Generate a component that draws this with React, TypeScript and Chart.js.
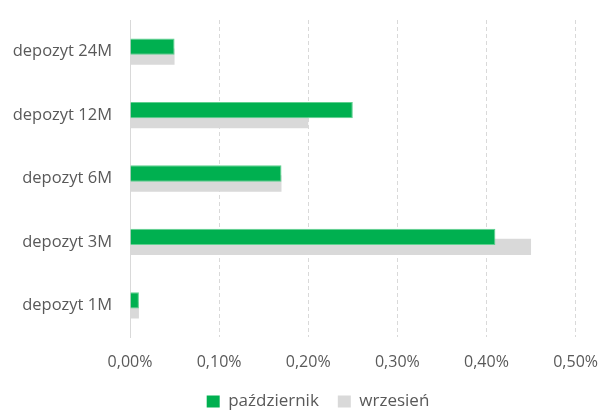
import React, { useEffect, useRef } from "react";
import { Chart, registerables } from "chart.js";

Chart.register(...registerables);

const categories = ["depozyt 24M", "depozyt 12M", "depozyt 6M", "depozyt 3M", "depozyt 1M"];
const october = [0.05, 0.25, 0.17, 0.41, 0.01];
const september = [0.05, 0.2, 0.17, 0.45, 0.01];
const seriesNames = ["październik", "wrzesień"];

const FONT = "'Open Sans', Lato, sans-serif";
const TEXT = "#595959";

const legendTweak = {
  id: "legendTweak",
  beforeUpdate(chart: any) {
    const lg = chart.legend;
    if (lg && !lg._patchedFit) {
      const orig = lg.fit.bind(lg);
      lg.fit = function () {
        orig();
        this.height = 39;
      };
      lg._patchedFit = true;
    }
  },
  afterLayout(chart: any) {
    const lg = chart.legend;
    if (lg) {
      lg.left += 30;
      lg.right += 30;
      lg.top += 3;
      lg.bottom += 3;
    }
  },
};

export default function App() {
  const ref = useRef<HTMLCanvasElement | null>(null);
  useEffect(() => {
    document.body.style.margin = "0";
    const chart = new Chart(ref.current!, {
      type: "bar",
      data: {
        labels: categories,
        datasets: [
          {
            label: seriesNames[0],
            data: october,
            backgroundColor: "#00B050",
            borderColor: "#5fd08f",
            borderWidth: 1,
            categoryPercentage: 0.315,
            barPercentage: 1.63,
          },
          {
            label: seriesNames[1],
            data: september,
            backgroundColor: "#D9D9D9",
            borderWidth: 0,
            categoryPercentage: 0.315,
            barPercentage: 1.63,
          },
        ],
      },
      plugins: [legendTweak],
      options: {
        indexAxis: "y",
        animation: false,
        responsive: false,
        layout: { padding: { left: 0, right: 39, top: 20, bottom: 0 } },
        scales: {
          x: {
            min: 0,
            max: 0.5,
            ticks: {
              stepSize: 0.1,
              color: TEXT,
              font: { family: FONT, size: 16, lineHeight: 1 },
              padding: 17,
              callback: (v: any) => Number(v).toFixed(2).replace(".", ",") + "%",
            },
            grid: { color: "#D9D9D9", drawTicks: false, lineWidth: 1 },
            border: { display: false, dash: [4, 3] },
            afterFit: (s: any) => {
              s.height = 34;
            },
          },
          y: {
            ticks: { color: TEXT, font: { family: FONT, size: 16.5 }, padding: 0 },
            grid: { display: false, drawTicks: true, tickLength: 18 },
            border: { display: true, color: "#D9D9D9", width: 1 },
            afterFit: (s: any) => {
              s.width = 130;
            },
          },
        },
        plugins: {
          legend: {
            position: "bottom",
            labels: {
              color: TEXT,
              font: { family: FONT, size: 17 },
              boxWidth: 13,
              boxHeight: 12,
              padding: 19,
              generateLabels: (c: any) =>
                c.data.datasets.map((d: any, i: number) => ({
                  text: d.label,
                  fillStyle: d.backgroundColor,
                  strokeStyle: d.backgroundColor,
                  lineWidth: 0,
                  fontColor: TEXT,
                  datasetIndex: i,
                  hidden: false,
                })),
            },
          },
          tooltip: { enabled: false },
        },
      },
    });
    return () => chart.destroy();
  }, []);
  return (
    <div style={{ width: 615, height: 410 }}>
      <canvas ref={ref} width={615} height={410} />
    </div>
  );
}
